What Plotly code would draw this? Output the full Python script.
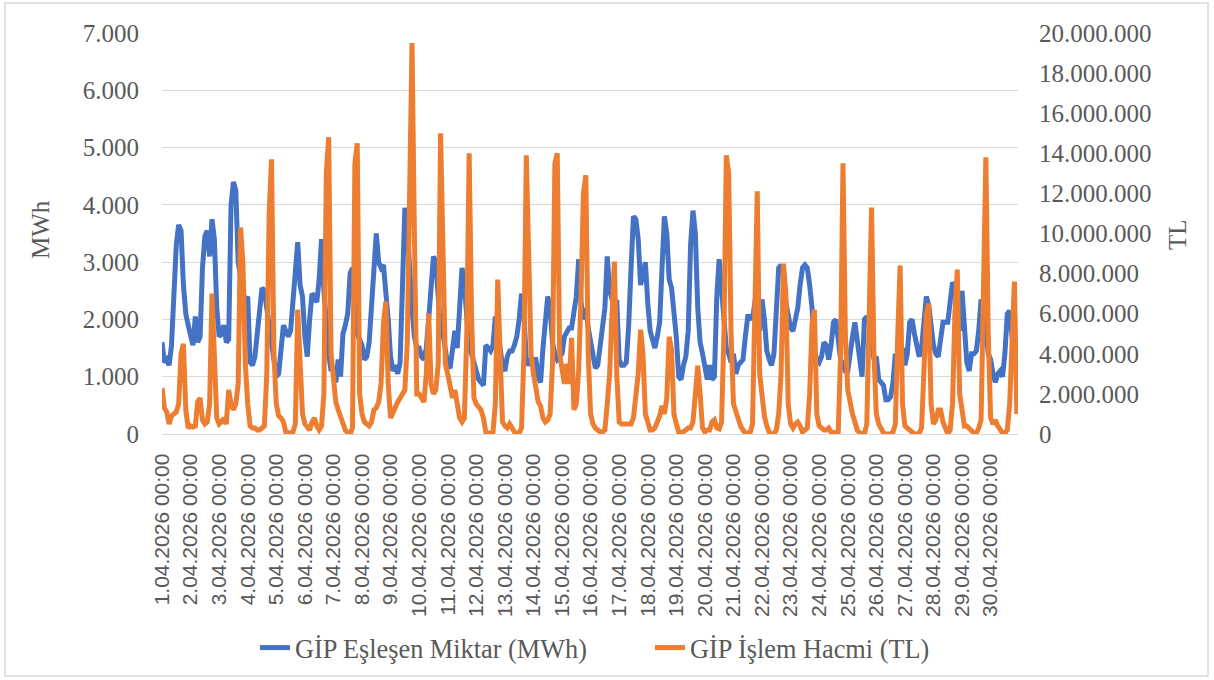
import plotly.graph_objects as go
import pandas as pd

# ---- data (2-hour readings, 12 per day) ----
gun_etiketleri = [f"{d}.04.2026 00:00" for d in range(1, 31)]

miktar_mwh_gunluk = [
    [1600, 1250, 1300, 1200, 1550, 2500, 3300, 3650, 3550, 2600, 2100, 1900],
    [1700, 1550, 2050, 1600, 1700, 2900, 3450, 3550, 3100, 3750, 3400, 2200],
    [1700, 1750, 1900, 1600, 1650, 4000, 4400, 4250, 3000, 2700, 2500, 2300],
    [2400, 1250, 1200, 1350, 1800, 2300, 2550, 2500, 2200, 1900, 1500, 1150],
    [1000, 1050, 1500, 1900, 1800, 1700, 1800, 2400, 2900, 3350, 2600, 2400],
    [1700, 1350, 2000, 2450, 2400, 2300, 2700, 3400, 2500, 1800, 1400, 1100],
    [1150, 900, 1300, 1000, 1750, 1900, 2100, 2800, 2900, 2100, 1750, 1650],
    [1550, 1300, 1350, 1600, 2200, 2900, 3500, 3000, 2900, 2950, 2500, 2000],
    [1350, 1100, 1200, 1050, 1250, 2400, 3950, 3600, 2800, 2200, 1700, 1500],
    [1500, 1350, 1300, 1500, 2000, 2600, 3100, 3000, 2200, 1800, 1750, 1500],
    [1200, 1150, 1450, 1800, 1500, 2300, 2900, 2600, 1900, 1500, 1400, 1200],
    [1100, 950, 900, 850, 1550, 1500, 1450, 1550, 2050, 1800, 1450, 1200],
    [1100, 1350, 1450, 1450, 1550, 1700, 2000, 2450, 2100, 1300, 1200, 1300],
    [1300, 1300, 1000, 900, 1500, 2000, 2400, 2200, 1600, 1400, 1300, 1350],
    [1400, 1700, 1800, 1850, 1850, 2200, 2400, 3050, 2300, 2000, 2200, 1850],
    [1600, 1400, 1150, 1200, 1600, 2000, 2200, 3100, 2500, 2350, 2300, 2300],
    [1300, 1200, 1200, 1250, 1900, 2900, 3800, 3750, 3400, 2600, 2800, 3000],
    [2300, 1800, 1650, 1500, 1700, 1950, 2900, 3800, 3500, 2700, 2550, 2100],
    [1700, 1000, 950, 1200, 1350, 1800, 3300, 3900, 3500, 2200, 1600, 1400],
    [1100, 950, 1200, 950, 1000, 2400, 3050, 2600, 2000, 1500, 1400, 1250],
    [1400, 1050, 1200, 1250, 1300, 1700, 2050, 2050, 2000, 2300, 2300, 1800],
    [2350, 2000, 1450, 1300, 1200, 1400, 2000, 2900, 2950, 2800, 2300, 2100],
    [1850, 1800, 2000, 2200, 2600, 2900, 2950, 2900, 2600, 2200, 1450, 1300],
    [1250, 1350, 1600, 1550, 1300, 1550, 1950, 2000, 1650, 1300, 1200, 1100],
    [1100, 1500, 1700, 1950, 1600, 1300, 1000, 2000, 2050, 1900, 1600, 1300],
    [1350, 950, 900, 850, 600, 600, 650, 900, 1400, 1200, 1450, 1500],
    [1200, 1400, 1950, 2000, 1750, 1500, 1350, 1500, 2100, 2400, 2250, 1800],
    [1550, 1400, 1350, 1650, 1950, 1950, 1950, 2300, 2650, 2550, 2100, 1800],
    [2500, 1900, 1250, 1100, 1400, 1400, 1450, 1800, 2350, 2050, 1900, 1400],
    [1300, 1050, 900, 1050, 1100, 1000, 1400, 2100, 2150, 1700, 1300, 1550],
]

hacim_milyon_tl_gunluk = [
    [2.3, 1.3, 1.1, 0.5, 0.9, 1.0, 1.1, 1.5, 4.0, 4.5, 1.2, 0.3],
    [0.4, 0.35, 0.4, 1.6, 1.8, 0.7, 0.5, 0.6, 1.5, 7.0, 4.0, 0.8],
    [0.5, 0.6, 0.8, 0.5, 2.2, 1.5, 1.2, 1.5, 2.5, 10.3, 8.5, 3.5],
    [1.5, 0.4, 0.3, 0.3, 0.2, 0.2, 0.3, 0.4, 3.0, 11.0, 13.7, 4.0],
    [1.5, 0.9, 0.8, 0.6, 0.1, 0.05, 0.05, 0.1, 0.5, 6.2, 3.5, 1.0],
    [0.5, 0.3, 0.2, 0.6, 0.8, 0.4, 0.2, 0.4, 2.0, 13.0, 14.8, 4.0],
    [2.5, 1.6, 1.2, 0.8, 0.5, 0.2, 0.05, 0.0, 0.3, 13.5, 14.5, 2.0],
    [1.0, 0.6, 0.5, 0.4, 0.6, 1.2, 1.3, 1.6, 2.5, 5.5, 6.6, 2.5],
    [0.8, 1.1, 1.3, 1.6, 1.8, 2.0, 2.2, 4.5, 13.8, 19.5, 10.0, 2.0],
    [2.0, 1.8, 1.6, 3.0, 6.0, 2.5, 2.0, 2.2, 3.5, 15.0, 9.0, 3.5],
    [3.0, 2.5, 1.8, 2.2, 1.5, 0.8, 0.6, 0.8, 5.0, 14.0, 6.0, 1.8],
    [1.5, 1.3, 1.2, 0.8, 0.1, 0.05, 0.05, 0.05, 1.5, 7.7, 4.0, 0.6],
    [0.4, 0.3, 0.5, 0.3, 0.1, 0.05, 0.05, 0.3, 4.0, 13.9, 8.5, 4.0],
    [3.0, 2.2, 1.6, 1.4, 0.8, 0.6, 0.7, 1.0, 3.5, 13.5, 14.0, 4.0],
    [3.0, 2.5, 3.5, 2.5, 4.8, 1.2, 1.5, 3.2, 7.0, 12.0, 12.9, 4.0],
    [1.0, 0.5, 0.3, 0.2, 0.1, 0.1, 0.2, 1.5, 3.0, 6.0, 8.6, 3.0],
    [0.6, 0.5, 0.5, 0.5, 0.5, 0.5, 0.8, 1.8, 3.0, 5.2, 4.0, 1.0],
    [0.5, 0.2, 0.2, 0.3, 0.6, 0.9, 1.4, 1.0, 1.8, 4.85, 4.2, 1.0],
    [0.5, 0.1, 0.05, 0.1, 0.2, 0.3, 0.3, 0.6, 2.0, 3.4, 2.0, 0.3],
    [0.1, 0.2, 0.2, 0.6, 0.7, 0.3, 0.25, 0.6, 5.0, 13.9, 13.0, 5.0],
    [1.5, 1.1, 0.8, 0.4, 0.2, 0.05, 0.05, 0.05, 0.5, 5.5, 12.1, 3.0],
    [1.8, 0.9, 0.4, 0.1, 0.0, 0.0, 0.2, 1.0, 3.0, 8.5, 7.0, 1.5],
    [0.5, 0.3, 0.5, 0.6, 0.4, 0.1, 0.2, 0.3, 2.0, 5.5, 6.2, 1.0],
    [0.4, 0.3, 0.2, 0.2, 0.3, 0.1, 0.05, 0.05, 0.1, 4.0, 13.5, 5.0],
    [2.2, 1.4, 1.0, 0.6, 0.2, 0.05, 0.0, 0.0, 0.5, 7.0, 11.3, 4.0],
    [1.0, 0.5, 0.2, 0.05, 0.0, 0.0, 0.0, 0.1, 0.5, 5.0, 8.4, 1.5],
    [0.4, 0.3, 0.2, 0.1, 0.0, 0.0, 0.05, 0.3, 3.0, 6.0, 6.5, 1.5],
    [0.5, 0.7, 1.2, 1.2, 0.6, 0.2, 0.0, 0.2, 1.5, 6.0, 8.2, 2.0],
    [1.0, 0.4, 0.4, 0.3, 0.2, 0.05, 0.05, 0.3, 0.7, 7.0, 13.8, 5.0],
    [0.8, 0.5, 0.7, 0.4, 0.2, 0.05, 0.05, 0.2, 1.5, 5.5, 7.6, 1.0],
]

seri_adlari = ["GİP Eşleşen Miktar (MWh)", "GİP İşlem Hacmi (TL)"]
eksen_basliklari = ["MWh", "TL"]

# ---- build series ----
zaman = pd.date_range("2026-04-01 00:00", periods=30 * 12, freq="2h")
miktar = [v for gun in miktar_mwh_gunluk for v in gun]
hacim = [v * 1_000_000 for gun in hacim_milyon_tl_gunluk for v in gun]
gun_baslari = pd.date_range("2026-04-01", periods=30, freq="D")

GRAY = "#595959"
SERIF = "Liberation Serif, 'Times New Roman', Times, serif"
SANS = "Liberation Sans, Arial, sans-serif"

fig = go.Figure()
fig.add_trace(go.Scatter(x=zaman, y=miktar, name=seri_adlari[0], mode="lines",
                         line=dict(color="#4472C4", width=5), legend="legend"))
fig.add_trace(go.Scatter(x=zaman, y=hacim, name=seri_adlari[1], mode="lines",
                         line=dict(color="#ED7D31", width=5), yaxis="y2",
                         legend="legend2"))

# plot area in pixels: x 162..1018, y 33..434
L, R, T, B = 162, 1018, 33, 434
W, H = R - L, B - T

def px(xp):
    return (xp - L) / W

def py(yp):
    return (B - yp) / H

leg_font = dict(family=SERIF, size=26.3, color=GRAY)

fig.update_layout(
    template="none",
    width=1214, height=680,
    margin=dict(l=L, r=1214 - R, t=T, b=680 - B, autoexpand=False),
    paper_bgcolor="white", plot_bgcolor="white",
    font=dict(family=SERIF, size=25, color=GRAY),
    separators=",.",
    showlegend=True,
    xaxis=dict(
        type="date", automargin=False,
        range=["2026-04-01 00:00", "2026-04-30 23:00"],
        tickvals=gun_baslari, ticktext=gun_etiketleri,
        tickangle=-90,
        tickfont=dict(family=SANS, size=21, color=GRAY),
        showgrid=False, zeroline=False,
        showline=True, linecolor="#d9d9d9", linewidth=1.3,
        ticks="", ticklabelstandoff=10,
    ),
    yaxis=dict(
        automargin=False,
        range=[0, 7000], tick0=0, dtick=1000, tickformat=",d",
        tickfont=dict(family=SERIF, size=25, color=GRAY),
        showgrid=True, gridcolor="#d9d9d9", gridwidth=1.3,
        zeroline=False, showline=False, ticks="",
        ticklabelstandoff=22,
    ),
    yaxis2=dict(
        automargin=False,
        overlaying="y", side="right",
        range=[0, 20000000], tick0=0, dtick=2000000, tickformat=",d",
        tickfont=dict(family=SERIF, size=25, color=GRAY),
        showgrid=False, zeroline=False, showline=False, ticks="",
        ticklabelstandoff=20,
    ),
    legend=dict(
        orientation="h", x=px(255), xanchor="left",
        y=py(648), yanchor="middle",
        font=leg_font, bgcolor="rgba(0,0,0,0)",
    ),
    legend2=dict(
        orientation="h", x=px(650), xanchor="left",
        y=py(648), yanchor="middle",
        font=leg_font, bgcolor="rgba(0,0,0,0)",
    ),
    annotations=[
        dict(text=eksen_basliklari[0], xref="paper", yref="paper",
             x=px(40), y=py(230), xanchor="center", yanchor="middle",
             textangle=-90, showarrow=False,
             font=dict(family=SERIF, size=25, color=GRAY)),
        dict(text=eksen_basliklari[1], xref="paper", yref="paper",
             x=px(1178), y=py(235), xanchor="center", yanchor="middle",
             textangle=-90, showarrow=False,
             font=dict(family=SERIF, size=25, color=GRAY)),
    ],
    shapes=[
        dict(type="rect", xref="paper", yref="paper",
             x0=px(5), x1=px(1208), y0=py(676), y1=py(3),
             line=dict(color="#d9d9d9", width=1.5), fillcolor="rgba(0,0,0,0)",
             layer="below"),
    ],
)

fig.write_html("out.html", config={"displayModeBar": False},
               post_script="document.body.style.margin='0';document.body.style.padding='0';")
